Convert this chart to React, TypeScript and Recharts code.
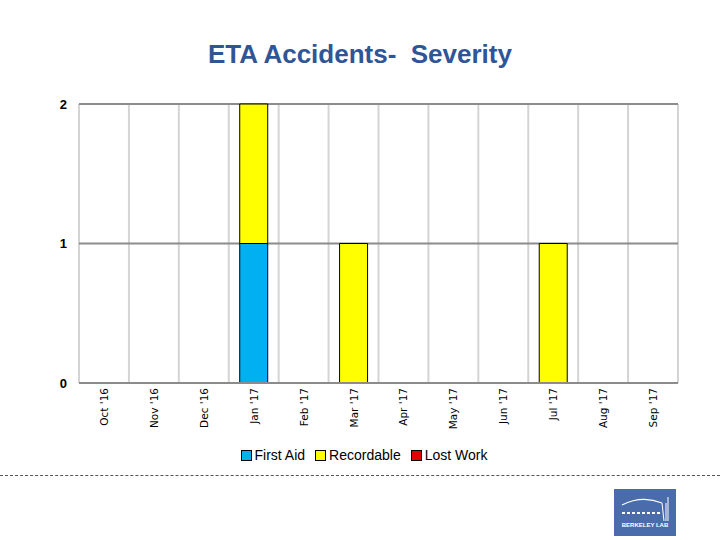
import { Bar, BarChart, CartesianGrid, XAxis, YAxis } from "recharts";

const months = ["Oct '16", "Nov '16", "Dec '16", "Jan '17", "Feb '17", "Mar '17", "Apr '17", "May '17", "Jun '17", "Jul '17", "Aug '17", "Sep '17"];
const firstAid = [0, 0, 0, 1, 0, 0, 0, 0, 0, 0, 0, 0];
const recordable = [0, 0, 0, 1, 0, 1, 0, 0, 0, 1, 0, 0];
const lostWork = [0, 0, 0, 0, 0, 0, 0, 0, 0, 0, 0, 0];
const yTicks = [0, 1, 2];

const series = [
  { key: "firstAid", name: "First Aid", color: "#00B0F0" },
  { key: "recordable", name: "Recordable", color: "#FFFF00" },
  { key: "lostWork", name: "Lost Work", color: "#E00000" },
];

const data = months.map((m, i) => ({
  month: m,
  firstAid: firstAid[i],
  recordable: recordable[i],
  lostWork: lostWork[i],
}));

const MonthTick = (props: any) => {
  const { x, y, payload } = props;
  return (
    <text
      x={0}
      y={0}
      transform={`translate(${x},${y - 3}) rotate(-90)`}
      textAnchor="end"
      dominantBaseline="central"
      fontSize={10.5}
      fontFamily="DejaVu Sans, sans-serif"
      fill="#000"
    >
      {payload.value}
    </text>
  );
};

const ValueTick = (props: any) => {
  const { x, y, payload } = props;
  return (
    <text x={x - 4} y={y} textAnchor="end" dominantBaseline="central" fontSize={13} fontWeight="bold" fontFamily="Arial, Liberation Sans, sans-serif" fill="#000">
      {payload.value}
    </text>
  );
};

export default function App() {
  return (
    <div style={{ position: "absolute", left: 0, top: 0, width: 720, height: 540, background: "#fff", fontFamily: "Arial, Liberation Sans, sans-serif" }}>
      <div style={{ position: "absolute", top: 39, left: 0, width: 720, textAlign: "center", fontSize: 26, fontWeight: "bold", color: "#2F5597" }}>
        ETA Accidents-&nbsp; Severity
      </div>
      <div style={{ position: "absolute", left: 0, top: 0 }}>
        <BarChart width={720} height={540} data={data} margin={{ top: 104, right: 42, bottom: 0, left: 0 }} barCategoryGap="22%">
          <CartesianGrid
            horizontal={false}
            stroke="#D4D4D4"
            strokeWidth={2}
            verticalCoordinatesGenerator={({ offset }: any) =>
              months.map((_, i) => offset.left + (i * offset.width) / months.length).concat(offset.left + offset.width)
            }
          />
          <CartesianGrid vertical={false} stroke="#8C8C8C" strokeWidth={2} />
          <XAxis dataKey="month" height={157} interval={0} tickLine={false} axisLine={{ stroke: "#8C8C8C", strokeWidth: 2 }} tick={<MonthTick />} />
          <YAxis width={79} domain={[0, 2]} ticks={yTicks} tickLine={false} axisLine={false} tick={<ValueTick />} />
          {series.map((s) => (
            <Bar key={s.key} dataKey={s.key} name={s.name} stackId="a" fill={s.color} stroke="#000" strokeWidth={1} isAnimationActive={false} />
          ))}
        </BarChart>
      </div>
      <div style={{ position: "absolute", top: 447, left: 0, width: 720, display: "flex", justifyContent: "center", paddingLeft: 18, boxSizing: "border-box", fontSize: 14, color: "#000" }}>
        {series.map((s) => (
          <div key={s.key} style={{ display: "flex", alignItems: "center", marginRight: 10 }}>
            <span style={{ width: 9, height: 9, background: s.color, border: "1px solid #000", marginRight: 3, display: "inline-block" }} />
            {s.name}
          </div>
        ))}
      </div>
      <div style={{ position: "absolute", top: 475, left: 0, width: 720, borderTop: "1px dashed #555" }} />
      <div style={{ position: "absolute", left: 614, top: 489, width: 62, height: 47, background: "#4A6CAB", color: "#fff", fontSize: 6, fontWeight: "bold", textAlign: "center" }}>
        <svg width={62} height={34}>
          <path d="M8 16 Q28 6 48 14" stroke="#fff" strokeWidth={1.2} fill="none" />
          <path d="M48 14 L50 32 M52 14 L52 32 M54 8 L54 32" stroke="#fff" strokeWidth={1} />
          <path d="M8 24 L46 24" stroke="#fff" strokeWidth={2} strokeDasharray="3 2" />
        </svg>
        <div style={{ marginTop: -2 }}>BERKELEY LAB</div>
      </div>
    </div>
  );
}
